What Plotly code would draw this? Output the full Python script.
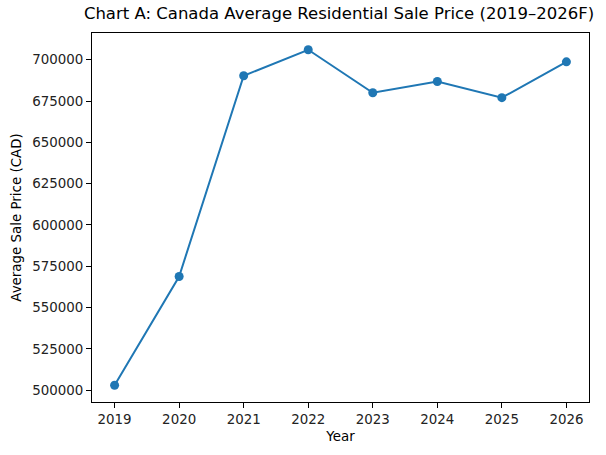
import plotly.graph_objects as go

years = [2019, 2020, 2021, 2022, 2023, 2024, 2025, 2026]
prices = [503000, 568800, 690300, 706000, 680000, 686800, 677000, 698700]
y_ticks = [500000, 525000, 550000, 575000, 600000, 625000, 650000, 675000, 700000]

W, H = 606, 455
L, R, T, B = 92, 17, 33, 53
FS = 13.4

fig = go.Figure()
fig.add_trace(go.Scatter(
    x=years, y=prices, mode="lines+markers",
    line=dict(color="#1f77b4", width=2),
    marker=dict(color="#1f77b4", size=9),
    showlegend=False,
))

axis_common = dict(
    showline=True, linecolor="black", linewidth=1, mirror=True,
    ticks="outside", ticklen=5, tickcolor="black", tickwidth=1,
    showgrid=False, zeroline=False,
    tickfont=dict(family="DejaVu Sans", size=FS, color="#222"),
)

fig.update_layout(
    width=W, height=H,
    margin=dict(l=L, r=R, t=T, b=B),
    paper_bgcolor="white", plot_bgcolor="white",
    font=dict(family="DejaVu Sans", color="black"),
    title=dict(
        text="Chart A: Canada Average Residential Sale Price (2019–2026F)",
        x=339 / W, xanchor="center",
        y=1 - 13 / H, yanchor="middle",
        font=dict(family="DejaVu Sans", size=16.5, color="black"),
    ),
    xaxis=dict(
        **axis_common,
        range=[2018.65, 2026.35],
        tickmode="array", tickvals=years, ticktext=[str(y) for y in years],
        title=dict(text="Year", font=dict(family="DejaVu Sans", size=FS, color="black"), standoff=5),
    ),
    yaxis=dict(
        **axis_common,
        range=[492850, 716150],
        tickmode="array", tickvals=y_ticks, ticktext=[str(v) for v in y_ticks],
        title=dict(text="Average Sale Price (CAD)", font=dict(family="DejaVu Sans", size=FS, color="black"), standoff=7),
    ),
)

fig.write_html(
    "out.html",
    config={"displayModeBar": False},
    post_script="document.body.style.margin='0';document.body.style.overflow='hidden';",
)
